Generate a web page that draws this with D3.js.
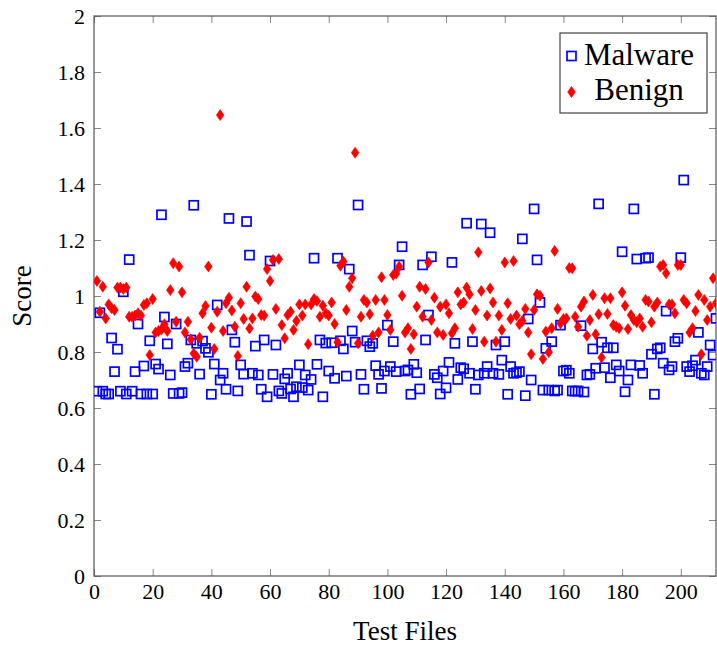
<!DOCTYPE html>
<html>
<head>
<meta charset="utf-8">
<script src="https://cdn.jsdelivr.net/npm/d3@7"></script>
<style>
  html, body { margin: 0; padding: 0; background: #fff; }
  svg { display: block; }
  text { font-family: "Liberation Serif", "DejaVu Serif", serif; fill: #000; }
</style>
</head>
<body>
<svg id="chart" width="717" height="649"></svg>
<script>
// Scores per test file (files numbered 1..212)
const malwareScores = [
  0.66, 0.94, 0.66, 0.65, 0.65, 0.85, 0.73, 0.81, 0.66, 1.015,
  0.65, 1.13, 0.66, 0.73, 0.90, 0.65, 0.75, 0.65, 0.84, 0.65,
  0.757, 0.739, 1.29, 0.925, 0.829, 0.718, 0.652, 0.90, 0.652, 0.655,
  0.748, 0.76, 0.843, 1.324, 0.831, 0.721, 0.839, 0.813, 0.799, 0.649,
  0.757, 0.968, 0.70, 0.724, 0.667, 1.277, 0.879, 0.835, 0.661, 0.754,
  0.721, 1.266, 1.146, 0.724, 0.821, 0.718, 0.667, 0.843, 0.64, 1.125,
  0.72, 0.825, 0.661, 0.652, 0.704, 0.724, 0.668, 0.64, 0.676, 0.754,
  0.673, 0.718, 0.664, 0.702, 1.135, 0.756, 0.843, 0.64, 0.832, 0.732,
  0.833, 0.706, 1.135, 0.84, 0.811, 0.714, 1.096, 0.875, 0.835, 1.325,
  0.72, 0.667, 0.84, 0.819, 0.831, 0.751, 0.72, 0.67, 0.732, 0.896,
  0.748, 0.837, 0.73, 1.111, 1.176, 0.732, 0.736, 0.649, 0.756, 0.726,
  0.668, 1.111, 0.843, 0.932, 1.14, 0.72, 0.708, 0.65, 0.732, 0.672,
  0.763, 1.12, 0.831, 0.702, 0.744, 0.74, 1.26, 0.724, 0.837, 0.667,
  0.718, 1.257, 0.724, 0.748, 1.226, 0.724, 0.825, 0.72, 0.771, 0.837,
  0.649, 0.748, 0.724, 0.726, 0.73, 1.204, 0.644, 0.918, 0.70, 1.311,
  1.129, 0.977, 0.664, 0.813, 0.664, 0.837, 0.661, 0.664, 0.896, 0.732,
  0.735, 0.724, 0.661, 0.66, 0.661, 0.894, 0.657, 0.718, 0.72, 0.811,
  0.742, 1.329, 0.835, 0.744, 0.815, 0.708, 0.815, 0.754, 0.732, 1.158,
  0.658, 0.70, 0.754, 1.311, 1.132, 0.752, 0.724, 1.135, 1.137, 0.792,
  0.649, 0.811, 0.815, 0.76, 0.946, 0.736, 0.748, 0.837, 0.849, 1.137,
  1.414, 0.748, 0.73, 0.751, 0.771, 0.87, 0.724, 0.718, 0.748, 0.825,
  0.789, 0.92
];

const benignScores = [
  1.054, 0.944, 1.033, 0.920, 0.970, 0.956, 0.95, 1.03, 1.03, 1.025,
  1.03, 0.926, 0.926, 0.93, 0.938, 0.930, 0.968, 0.974, 0.789, 0.989,
  0.870, 0.875, 0.88, 0.899, 0.875, 1.021, 1.117, 0.908, 1.105, 1.013,
  0.870, 0.908, 0.845, 0.795, 0.783, 0.851, 0.938, 0.964, 1.105, 0.887,
  0.811, 0.944, 1.646, 0.875, 0.974, 0.994, 0.948, 0.890, 0.786, 0.974,
  0.918, 1.033, 0.884, 0.920, 0.998, 0.989, 0.932, 0.930, 1.096, 1.054,
  1.129, 0.954, 1.132, 0.896, 0.849, 0.932, 0.944, 0.879, 0.911, 0.970,
  0.930, 0.970, 0.828, 0.97, 0.989, 0.982, 0.926, 0.965, 0.938, 0.930,
  0.977, 0.9, 0.835, 1.108, 1.123, 0.95, 1.033, 1.063, 1.512, 0.831,
  0.926, 0.986, 0.977, 0.935, 0.858, 0.986, 0.870, 1.067, 0.986, 0.932,
  0.879, 1.075, 1.08, 1.105, 1.001, 0.870, 0.885, 0.811, 0.863, 0.962,
  1.033, 0.926, 1.025, 1.12, 0.914, 0.994, 0.870, 0.962, 0.861, 0.970,
  0.938, 0.867, 0.885, 1.013, 0.97, 0.977, 1.03, 1.006, 0.882, 0.95,
  1.156, 1.018, 0.837, 0.93, 1.027, 0.977, 0.837, 0.93, 0.879, 1.12,
  0.974, 0.918, 1.125, 0.93, 0.899, 0.911, 0.954, 0.870, 0.792, 0.95,
  1.006, 1.001, 0.775, 0.873, 0.799, 0.885, 1.161, 0.954, 0.902, 0.918,
  0.92, 1.10, 1.099, 0.926, 0.89, 0.962, 0.98, 0.858, 0.914, 1.004,
  0.863, 0.935, 0.78, 0.992, 0.936, 0.992, 0.896, 0.89, 0.885, 1.013,
  0.965, 0.882, 0.932, 0.914, 0.906, 0.92, 0.89, 0.986, 0.98, 0.906,
  0.962, 0.977, 1.105, 1.111, 1.081, 0.97, 0.97, 0.938, 1.111, 1.111,
  0.986, 0.974, 0.870, 0.885, 0.946, 1.004, 0.792, 0.986, 0.914, 0.962,
  1.063, 0.974
];

const xTicks = [0, 20, 40, 60, 80, 100, 120, 140, 160, 180, 200];
const yTicks = [0, 0.2, 0.4, 0.6, 0.8, 1, 1.2, 1.4, 1.6, 1.8, 2];
const seriesNames = ["Malware", "Benign"];
const xLabel = "Test Files";
const yLabel = "Score";

const svg = d3.select("#chart");
const plotL = 94, plotR = 716, plotT = 16, plotB = 576;

const x = d3.scaleLinear().domain([0, 212]).range([plotL, plotR]);
const y = d3.scaleLinear().domain([0, 2]).range([plotB, plotT]);

const axisColor = "#555";
const tickLen = 7;
const fmt = d => String(+d.toFixed(1));

// clip region for the markers
svg.append("defs").append("clipPath").attr("id", "plotClip")
  .append("rect").attr("x", plotL).attr("y", plotT)
  .attr("width", plotR - plotL).attr("height", plotB - plotT);

// axes with inward ticks
const gx = svg.append("g").attr("transform", `translate(0,${plotB})`)
  .call(d3.axisBottom(x).tickValues(xTicks).tickFormat(d3.format("d"))
        .tickSizeInner(-tickLen).tickSizeOuter(0).tickPadding(6));
const gxTop = svg.append("g").attr("transform", `translate(0,${plotT})`)
  .call(d3.axisTop(x).tickValues(xTicks).tickFormat("")
        .tickSizeInner(-tickLen).tickSizeOuter(0));
const gy = svg.append("g").attr("transform", `translate(${plotL},0)`)
  .call(d3.axisLeft(y).tickValues(yTicks).tickFormat(fmt)
        .tickSizeInner(-tickLen).tickSizeOuter(0).tickPadding(9));
const gyRight = svg.append("g").attr("transform", `translate(${plotR},0)`)
  .call(d3.axisRight(y).tickValues(yTicks).tickFormat("")
        .tickSizeInner(-tickLen).tickSizeOuter(0));

[gx, gxTop, gy, gyRight].forEach(g => {
  g.select(".domain").remove();
  g.selectAll(".tick line").attr("stroke", "#888").attr("stroke-width", 1);
  g.selectAll(".tick text")
    .attr("font-family", "Liberation Serif, serif")
    .attr("font-size", 22).attr("fill", "#000");
});
gx.selectAll(".tick text").attr("dy", "0.75em");

// frame
svg.append("rect").attr("x", plotL).attr("y", plotT)
  .attr("width", plotR - plotL).attr("height", plotB - plotT)
  .attr("fill", "none").attr("stroke", axisColor).attr("stroke-width", 1.2);

// markers
const plot = svg.append("g").attr("clip-path", "url(#plotClip)");
const sq = 9;
plot.append("g").selectAll("rect")
  .data(malwareScores)
  .join("rect")
  .attr("x", (d, i) => x(i + 1) - sq / 2)
  .attr("y", d => y(d) - sq / 2)
  .attr("width", sq).attr("height", sq)
  .attr("fill", "none").attr("stroke", "#0000ff").attr("stroke-width", 1.7);

const diamond = "M0,-5.5L3.8,0L0,5.5L-3.8,0Z";
plot.append("g").selectAll("path")
  .data(benignScores)
  .join("path")
  .attr("d", diamond)
  .attr("transform", (d, i) => `translate(${x(i + 1)},${y(d)})`)
  .attr("fill", "#ff0000").attr("stroke", "#ff0000").attr("stroke-width", 0.6);

// axis labels
svg.append("text").attr("x", (plotL + plotR) / 2).attr("y", 640)
  .attr("text-anchor", "middle").attr("font-size", 27).text(xLabel);
svg.append("text")
  .attr("transform", `translate(31,${(plotT + plotB) / 2}) rotate(-90)`)
  .attr("text-anchor", "middle").attr("font-size", 27).text(yLabel);

// legend
const lg = svg.append("g");
lg.append("rect").attr("x", 560).attr("y", 33).attr("width", 147).attr("height", 80)
  .attr("fill", "#fff").attr("stroke", "#444").attr("stroke-width", 1.2);
lg.append("rect").attr("x", 571.5 - sq / 2).attr("y", 56 - sq / 2)
  .attr("width", sq).attr("height", sq)
  .attr("fill", "none").attr("stroke", "#0000ff").attr("stroke-width", 1.7);
lg.append("path").attr("d", diamond).attr("transform", "translate(571.5,92)")
  .attr("fill", "#ff0000").attr("stroke", "#ff0000").attr("stroke-width", 0.6);
lg.append("text").attr("x", 639).attr("y", 65).attr("text-anchor", "middle")
  .attr("font-size", 31).text(seriesNames[0]);
lg.append("text").attr("x", 639).attr("y", 100).attr("text-anchor", "middle")
  .attr("font-size", 31).text(seriesNames[1]);
</script>
</body>
</html>
